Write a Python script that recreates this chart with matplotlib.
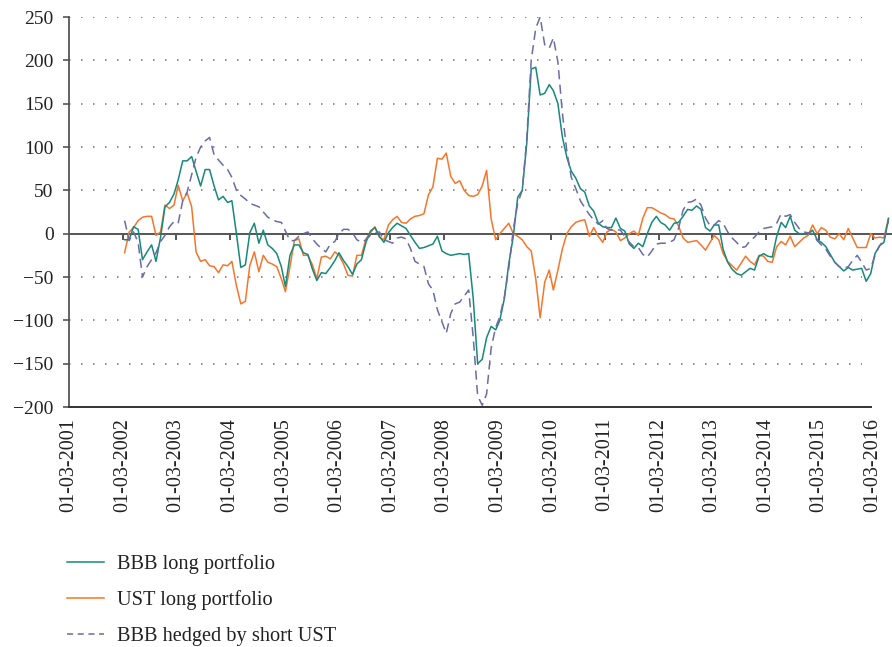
import matplotlib
matplotlib.use("Agg")
import matplotlib.pyplot as plt
import matplotlib.dates as mdates
from matplotlib.lines import Line2D
import pandas as pd
import numpy as np

plt.rcParams['font.family'] = ['Liberation Serif', 'DejaVu Serif']

# ---------------- data (monthly) ----------------
start_date = "2002-03-15"
series_names = ["BBB long portfolio", "UST long portfolio", "BBB hedged by short UST"]

bbb_long = [
    -7, -7, 8, 5, -30, -21, -13, -32, -4, 31,
    36, 46, 62, 84, 84, 89, 72, 55, 74, 74,
    55, 39, 43, 36, 38, 0, -39, -36, 1, 12,
    -11, 4, -13, -17, -23, -38, -61, -25, -13, -13,
    -22, -24, -41, -54, -45, -46, -39, -31, -22, -31,
    -38, -47, -35, -30, -10, 3, 7, -3, -10, 1,
    7, 12, 9, 6, -2, -10, -17, -16, -14, -12,
    -3, -20, -23, -25, -24, -23, -24, -23, -75, -150,
    -145, -120, -107, -111, -100, -75, -35, -3, 42, 50,
    105, 190, 192, 160, 162, 172, 165, 150, 112, 88,
    72, 64, 52, 48, 32, 26, 12, 8, 7, 7,
    18, 6, 3, -12, -17, -11, -15, 0, 13, 20,
    13, 10, 4, 12, 13, 20, 28, 27, 32, 28,
    7, 3, 10, 10, -18, -33, -41, -46, -48, -44,
    -40, -42, -26, -23, -26, -27, -3, 13, 7, 20,
    4, 0, 0, 0, 4, -7, -10, -15, -24, -33,
    -38, -43, -39, -42, -41, -40, -55, -46, -23, -14,
    -10, 17,
]

ust_long = [
    -22, 2, 7, 15, 19, 20, 20, -2, 2, 33,
    29, 33, 56, 38, 47, 31, -21, -32, -30, -37,
    -38, -45, -36, -37, -32, -60, -81, -78, -37, -21,
    -44, -25, -33, -35, -38, -52, -67, -38, -8, -6,
    -25, -25, -36, -52, -27, -26, -29, -21, -25, -35,
    -48, -49, -25, -25, -6, 1, 8, -4, -7, 10,
    16, 20, 13, 12, 17, 20, 21, 23, 45, 54,
    87, 86, 93, 66, 58, 61, 50, 44, 43, 45,
    55, 73, 17, -7, 0, 6, 12, 0, -3, -7,
    -15, -20, -52, -97, -56, -42, -65, -42, -18, 0,
    8, 13, 15, 16, -3, 7, -3, -10, 2, 5,
    2, -8, -5, 0, 3, -2, 18, 30, 30, 27,
    24, 22, 18, 17, 9, -5, -10, -9, -8, -13,
    -19, -10, -2, -7, -23, -32, -37, -42, -34, -26,
    -32, -36, -25, -26, -32, -33, -15, -9, -13, -3,
    -15, -10, -5, -2, 10, 0, 7, 4, -4, -6,
    0, -7, 6, -5, -16, -16, -16, 0, -5, -4,
    -5, 18,
]

bbb_hedged = [
    15, -8, 2, -10, -50, -38, -30, -22, -9, -2,
    8, 14, 12, 38, 48, 68, 88, 100, 107, 111,
    91, 85, 79, 74, 65, 50, 44, 40, 35, 33,
    31, 25, 19, 16, 14, 13, 3, -8, -8, -3,
    0, 2, -6, -12, -17, -21, -12, -9, 0, 5,
    5, 1, -7, -10, -7, -2, 1, 2, -7, -9,
    -11, -5, -4, -6, -17, -32, -35, -38, -58, -65,
    -88, -102, -115, -92, -81, -79, -72, -65, -120, -187,
    -198, -185, -132, -108, -96, -73, -40, 5, 35, 50,
    110, 200, 237, 250, 218, 214, 226, 198, 140, 95,
    65, 52, 38, 30, 22, 16, 11, 15, 6, 4,
    5, 4, -3, -10, -15, -16, -24, -27, -20, -12,
    -11, -11, -10, -7, 6, 27, 36, 37, 40, 33,
    18, 9, 10, 15, 12, 2, -5, -10, -16, -15,
    -8, -4, 2, 6, 7, 8, 12, 23, 20, 22,
    13, 6, 2, 1, 0, -8, -13, -18, -26, -33,
    -38, -40, -38, -31, -25, -33, -42, -40, -25, -14,
    -7, 15,
]

tick_years = list(range(2001, 2017))
y_ticks = [-200, -150, -100, -50, 0, 50, 100, 150, 200, 250]

# ---------------- styling ----------------
c_green = "#16897a"
c_orange = "#f5762b"
c_dash = "#6b6ba6"
c_axis = "#555555"

dates = pd.date_range(start_date, periods=len(bbb_long), freq=pd.DateOffset(months=1))
tick_dates = [pd.Timestamp(f"{y}-03-01") for y in tick_years]


def yr(frac_year):
    y = int(frac_year)
    return pd.Timestamp(f"{y}-01-01") + pd.Timedelta(days=(frac_year - y) * 365.25)


fig = plt.figure(figsize=(8.92, 6.47), dpi=100)
ax = fig.add_axes([69 / 892, 1 - 407 / 647, 1 - 69 / 892, 390 / 647])

x0 = pd.Timestamp("2001-03-01")
x1 = yr(2016.52)
ax.set_xlim(x0, x1)
ax.set_ylim(-200, 250)

# dotted grid
x_grid_end = yr(2015.96)
for yv in y_ticks:
    if yv in (0, -200):
        continue
    ax.plot([x0, x_grid_end], [yv, yv], color="#7a7a7a", lw=1.2,
            linestyle=(0, (0.9, 6.3)), zorder=1)

ax.axhline(0, color=c_axis, lw=1.4, zorder=2)
ax.vlines(tick_dates[1:], -7, 0, color=c_axis, lw=1.4, zorder=2)

ax.plot(dates, bbb_long, color=c_green, lw=1.1, zorder=4, label=series_names[0])
ax.plot(dates, ust_long, color=c_orange, lw=1.1, zorder=3, label=series_names[1])
ax.plot(dates, bbb_hedged, color=c_dash, lw=1.1, zorder=5,
        linestyle=(0, (6, 3.5)), label=series_names[2])

for s in ("top", "right"):
    ax.spines[s].set_visible(False)
ax.spines["left"].set_color(c_axis)
ax.spines["left"].set_linewidth(1.3)
ax.spines["bottom"].set_color("#333333")
ax.spines["bottom"].set_linewidth(1.4)
ax.spines["bottom"].set_bounds(mdates.date2num(x0), mdates.date2num(yr(2016.13)))

ax.set_yticks(y_ticks)
ax.set_yticklabels([f"{v}".replace("-", "\u2212") for v in y_ticks])
ax.tick_params(axis="y", length=4, width=1.2, color=c_axis, labelsize=14,
               labelcolor="#222222", pad=7)

ax.set_xticks(tick_dates)
ax.set_xticklabels([d.strftime("%d-%m-%Y") for d in tick_dates], rotation=90,
                   fontsize=14.5, color="#222222")
ax.tick_params(axis="x", length=0, pad=8)

handles = [Line2D([], [], color=c_green, lw=1.1),
           Line2D([], [], color=c_orange, lw=1.1),
           Line2D([], [], color=c_dash, lw=1.1, linestyle=(0, (4, 3)))]
fig.legend(handles, series_names, loc="upper left",
           bbox_to_anchor=(67 / 892, 1 - 554 / 647), frameon=False,
           fontsize=14.7, handlelength=1.8, handletextpad=0.65, labelspacing=0.8,
           borderpad=0, borderaxespad=0, labelcolor="#222222")

fig.savefig("out.png", dpi=100)
